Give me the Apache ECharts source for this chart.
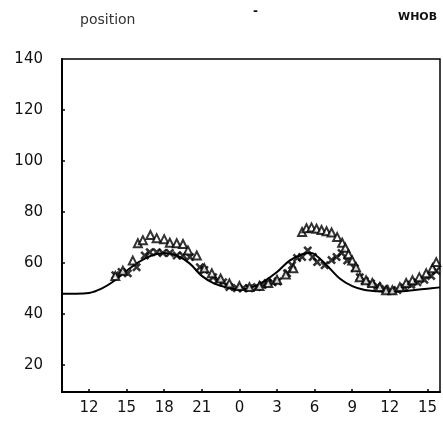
<!DOCTYPE html>
<html>
<head>
<meta charset="utf-8">
<script src="https://cdn.jsdelivr.net/npm/echarts@6/dist/echarts.min.js"></script>
<style>
  html, body { margin: 0; padding: 0; background: #fff; }
  #chart { width: 443px; height: 427px; }
</style>
</head>
<body>
<div id="chart"></div>
<script>
// Hours are counted continuously from midnight of day 1 (24 = midnight of day 2).
const xTickHours = [12, 15, 18, 21, 24, 27, 30, 33, 36, 39];
const yTickValues = [20, 40, 60, 80, 100, 120, 140];

// Model curve
const modelHours  = [9.85, 11, 12, 13, 14, 15, 16, 17, 18, 19, 20, 21, 22, 23, 24, 25, 26, 27, 28, 29, 29.6, 30, 31, 32, 33, 34, 35, 36, 37, 38, 39, 40];
const modelValues = [48, 48, 48.3, 50, 53, 57, 60.5, 63, 64, 63, 60, 55, 52, 50.5, 49.7, 50.5, 53, 56.5, 61, 63.5, 64, 63.5, 59, 54, 51, 49.5, 49, 48.7, 49, 49.5, 50, 50.5];

// Observed series A (triangles)
const triHours  = [14.1, 14.7, 15.5, 15.9, 16.3, 16.9, 17.4, 18.0, 18.45, 19.0, 19.5, 19.9, 20.6, 21.2, 21.8, 22.5, 23.2, 24.0, 24.8, 25.6, 26.3, 27.0, 27.7, 28.3, 29.0, 29.35, 29.75, 30.15, 30.55, 30.95, 31.35, 31.8, 32.2, 32.45, 32.7, 33.0, 33.3, 33.6, 34.1, 34.6, 35.2, 35.7, 36.2, 36.8, 37.3, 37.8, 38.35, 38.9, 39.4, 39.7];
const triValues = [55, 57, 61, 67.8, 69, 71, 69.8, 69.4, 68, 67.8, 67.5, 65, 63, 58, 56, 54, 52, 51, 50.6, 51, 52.2, 53.5, 55.5, 58, 72.2, 73.7, 74, 73.5, 73, 72.5, 72, 70.2, 68, 66, 63.5, 61, 58.4, 54.5, 53.3, 52.2, 50.6, 49.4, 49.4, 50.6, 52.2, 53.3, 54.5, 56, 58, 60.4];

// Observed series B (crosses)
const crossHours  = [14.1, 14.6, 15.1, 15.8, 16.45, 16.85, 17.4, 17.9, 18.45, 19.0, 19.5, 20.05, 20.85, 21.2, 21.9, 22.3, 22.7, 23.2, 23.8, 24.3, 24.8, 25.4, 25.85, 26.25, 26.65, 27.05, 27.8, 28.2, 28.6, 29.0, 29.45, 29.85, 30.2, 30.8, 31.35, 31.75, 32.15, 32.6, 33.2, 33.6, 34.0, 34.5, 35.0, 35.6, 36.1, 36.6, 37.15, 37.7, 38.2, 38.75, 39.3, 39.7];
const crossValues = [55.3, 56.5, 56, 58.4, 63, 64.3, 64.3, 64, 64, 63, 63, 62.4, 58.4, 57.3, 54.5, 53.3, 52.5, 50.6, 50.2, 50.2, 50.2, 50.6, 51.4, 52.2, 52.5, 52.8, 56, 59.2, 62, 62.4, 65, 62.4, 60.4, 59.2, 61.2, 62.4, 64, 61, 58, 54.5, 53, 52, 51, 50, 49.2, 49.5, 50.5, 51.5, 52.5, 53.5, 55, 57];

const zip = (a, b) => a.map((h, i) => [h, b[i]]);

const crossPath = 'path://M0,2 L2,0 L5,3 L8,0 L10,2 L7,5 L10,8 L8,10 L5,7 L2,10 L0,8 L3,5 Z';
const labelFont = 'DejaVu Sans';

const chart = echarts.init(document.getElementById('chart'), null, { renderer: 'canvas' });
chart.setOption({
  animation: false,
  backgroundColor: '#ffffff',
  grid: {
    left: 62, top: 59, right: 3, bottom: 35,
    show: true, borderColor: '#000', borderWidth: 1.5, backgroundColor: 'transparent'
  },
  graphic: [
    { type: 'text', left: 80, top: 13, style: { text: 'position', font: '14px "DejaVu Sans"', fill: '#333' } },
    { type: 'text', left: 253, top: 6, style: { text: '-', font: 'bold 12px "DejaVu Sans"', fill: '#111' } },
    { type: 'text', left: 398, top: 12, style: { text: 'WHOB', font: 'bold 11px "DejaVu Sans"', fill: '#111' } }
  ],
  xAxis: {
    type: 'value',
    min: 9.85, max: 40,
    splitLine: { show: false },
    axisLine: { lineStyle: { color: '#000', width: 2 } },
    axisTick: { customValues: xTickHours, inside: true, length: 3, lineStyle: { color: '#000', width: 1.5 } },
    axisLabel: {
      customValues: xTickHours,
      formatter: v => String(Math.round(v) % 24),
      color: '#111', fontFamily: labelFont, fontSize: 15, margin: 9
    }
  },
  yAxis: {
    type: 'value',
    min: 9.5, max: 140,
    splitLine: { show: false },
    axisLine: { lineStyle: { color: '#000', width: 2 } },
    axisTick: { customValues: yTickValues.slice(0, -1), inside: true, length: 3, lineStyle: { color: '#000', width: 1.5 } },
    axisLabel: {
      customValues: yTickValues,
      color: '#111', fontFamily: labelFont, fontSize: 15, margin: 19
    }
  },
  series: [
    {
      type: 'line',
      data: zip(modelHours, modelValues),
      smooth: 0.4,
      showSymbol: false,
      lineStyle: { color: '#000', width: 2 },
      z: 2
    },
    {
      type: 'scatter',
      data: zip(crossHours, crossValues),
      symbol: crossPath,
      symbolSize: 9,
      itemStyle: { color: '#000' },
      z: 3
    },
    {
      type: 'scatter',
      data: zip(triHours, triValues),
      symbol: 'triangle',
      symbolSize: 8,
      itemStyle: { color: '#fff', borderColor: '#000', borderWidth: 2 },
      z: 4
    }
  ]
});
</script>
</body>
</html>
